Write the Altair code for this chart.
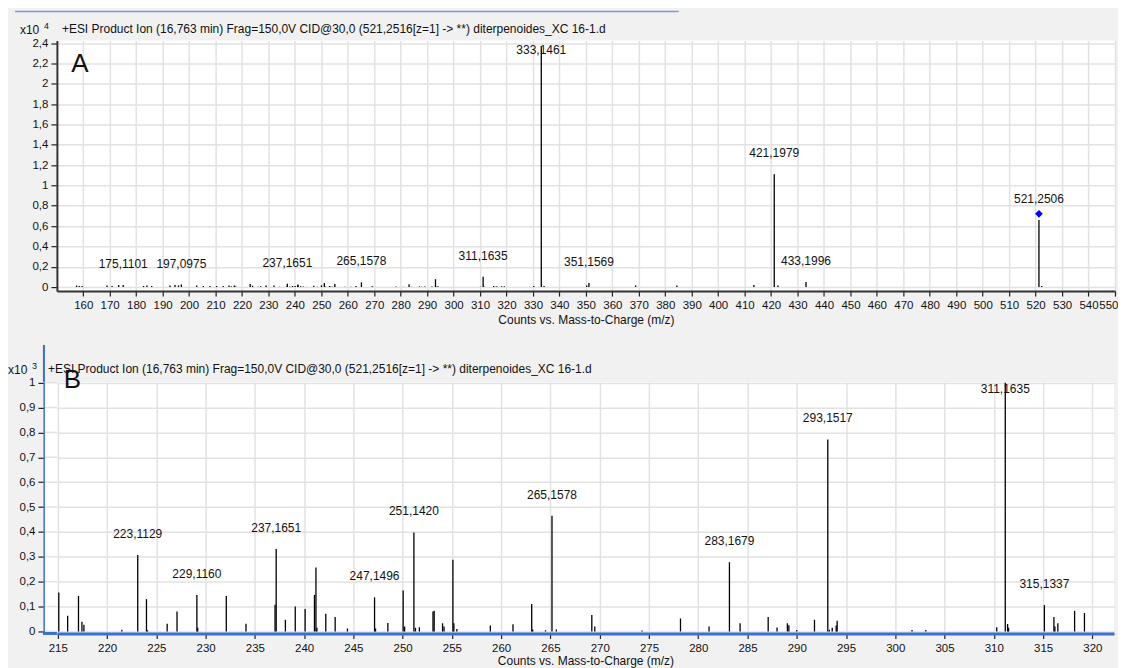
import altair as alt
import pandas as pd

TITLE = "+ESI Product Ion (16,763 min) Frag=150,0V CID@30,0 (521,2516[z=1] -> **) diterpenoides_XC 16-1.d"
XTITLE = "Counts vs. Mass-to-Charge (m/z)"
FONT = "Liberation Sans"

# ---- Panel B spectrum, m/z 213-322 (counts x10^3) ----
b_mz = [215.1, 216.0, 217.1, 217.45, 217.65, 221.5, 223.1129, 224.0, 224.1, 226.1,
        227.1, 229.1160, 229.2, 232.1, 234.1, 237.05, 237.1651, 238.1, 239.1, 240.1,
        241.05, 241.2, 241.3, 242.2, 243.15, 244.4, 247.1496, 247.25, 248.5, 250.05,
        250.2, 251.1420, 251.3, 251.7, 253.08, 253.2, 254.05, 254.2, 255.1, 255.2,
        255.5, 258.9, 261.2, 263.1, 263.2, 264.5, 265.1578, 265.6, 269.2, 269.5,
        274.3, 278.2, 281.1, 283.1679, 284.25, 287.1, 288.0, 289.05, 289.2, 290.0,
        291.8, 293.1517, 293.3, 293.6, 294.0, 294.1, 301.7, 303.1, 310.3, 311.1635,
        311.4, 311.5, 315.1337, 316.1, 316.2, 316.5, 318.2, 319.2]
b_int = [0.157, 0.063, 0.143, 0.039, 0.027, 0.007, 0.307, 0.130, 0.005, 0.031,
         0.080, 0.147, 0.015, 0.143, 0.031, 0.107, 0.331, 0.047, 0.100, 0.090,
         0.147, 0.257, 0.015, 0.071, 0.058, 0.012, 0.137, 0.012, 0.034, 0.165,
         0.020, 0.398, 0.015, 0.017, 0.080, 0.083, 0.033, 0.020, 0.288, 0.033,
         0.010, 0.024, 0.029, 0.110, 0.008, 0.005, 0.465, 0.008, 0.066, 0.020,
         0.004, 0.052, 0.020, 0.278, 0.033, 0.058, 0.016, 0.033, 0.025, 0.006,
         0.047, 0.772, 0.007, 0.015, 0.024, 0.043, 0.006, 0.006, 0.017, 1.000,
         0.030, 0.015, 0.106, 0.058, 0.020, 0.033, 0.083, 0.074]

# ---- Panel A peaks outside the zoomed window (counts x10^4) ----
a_low_mz = [157.5, 158.5, 159.6, 169.0, 170.9, 173.4, 175.1101, 182.8, 184.1, 185.9,
            192.8, 194.7, 196.0, 197.0975, 202.9, 205.4, 207.9, 210.4, 212.9]
a_low_int = [0.015, 0.010, 0.010, 0.015, 0.010, 0.020, 0.020, 0.010, 0.015, 0.010,
             0.015, 0.020, 0.015, 0.025, 0.015, 0.010, 0.010, 0.010, 0.010]
a_high_mz = [330.3, 333.1461, 334.2, 350.3, 351.1569, 368.8, 384.4, 413.5, 421.1979,
             422.6, 433.1996, 521.2506, 522.3]
a_high_int = [0.010, 2.370, 0.010, 0.015, 0.040, 0.015, 0.015, 0.020, 1.110,
              0.015, 0.050, 0.660, 0.010]

# precursor marker (blue diamond)
prec_mz = [521.2506]
prec_int = [0.72]

a_label_mz = [175.1101, 197.0975, 237.1651, 265.1578, 311.1635, 333.1461,
              351.1569, 421.1979, 433.1996, 521.2506]
b_label_mz = [223.1129, 229.1160, 237.1651, 247.1496, 251.1420, 265.1578,
              283.1679, 293.1517, 311.1635, 315.1337]

a_x_ticks = list(range(160, 551, 10))
a_y_ticks = [0, 0.2, 0.4, 0.6, 0.8, 1.0, 1.2, 1.4, 1.6, 1.8, 2.0, 2.2, 2.4]
b_x_ticks = list(range(215, 321, 5))
b_y_ticks = [0, 0.1, 0.2, 0.3, 0.4, 0.5, 0.6, 0.7, 0.8, 0.9, 1.0]

# ---- tables ----
a_mz = a_low_mz + b_mz + a_high_mz
a_int = a_low_int + [v / 10 for v in b_int] + a_high_int
dfA = pd.DataFrame({"mz": a_mz, "intensity": a_int})
dfB = pd.DataFrame({"mz": b_mz, "intensity": b_int})
labA = pd.DataFrame({"mz": a_label_mz,
                     "intensity": [dict(zip(a_mz, a_int))[m] for m in a_label_mz]})
labB = pd.DataFrame({"mz": b_label_mz,
                     "intensity": [dict(zip(b_mz, b_int))[m] for m in b_label_mz]})
precA = pd.DataFrame({"mz": prec_mz, "intensity": prec_int})

BLUE = "#3a6fd2"
GRID = "#e2e2e2"
LABEL_EXPR = "replace(format(datum.value, '~g'), '.', ',')"


def panel(df, lab, xdom, ydom, xt, yt, w, h, clampv, axis_color,
          xdom_w, letter, letter_xy, exp, tx, ty, x10x,
          yoffset=0, xlabpad=2, xtitlepad=4, flush=False, prec=None, strip=None,
          extra=None):
    xscale = alt.Scale(domain=xdom, nice=False, zero=False)
    xax_kw = dict(values=xt, title=XTITLE, grid=True, labelFlush=flush,
                  domainColor=axis_color, domainWidth=xdom_w,
                  tickSize=5, labelPadding=xlabpad, titlePadding=xtitlepad,
                  labelOverlap=False)
    if flush:
        xax_kw["labelFlushOffset"] = 3
    xax = alt.Axis(**xax_kw)
    yax = alt.Axis(values=yt, title=None, grid=True, labelExpr=LABEL_EXPR,
                   domainColor=axis_color, domainWidth=2, tickSize=6,
                   labelPadding=3, offset=yoffset, labelOverlap=False)
    yscale = alt.Scale(domain=ydom, nice=False, zero=False)
    xenc = alt.X("mz:Q", scale=xscale, axis=xax)
    layers = []
    if strip:
        # white plot strip between the offset y axis and the view, with grid
        layers.append(alt.Chart(pd.DataFrame({"t": [0]})).mark_rect(color="white").encode(
            x=alt.value(-strip + 1), x2=alt.value(0), y=alt.value(0), y2=alt.value(h)))
        layers.append(alt.Chart(pd.DataFrame({"v": yt})).mark_rule(
            color=GRID, strokeWidth=1.5).encode(
            y=alt.Y("v:Q", scale=yscale, axis=yax),
            x=alt.value(-strip + 1), x2=alt.value(0)))
        layers.append(alt.Chart(pd.DataFrame({"t": [0]})).mark_rule(
            color=axis_color, strokeWidth=xdom_w).encode(
            x=alt.value(-strip - 1), x2=alt.value(0), y=alt.value(h)))
        layers.append(alt.Chart(pd.DataFrame({"t": [0]})).mark_rule(
            color=axis_color, strokeWidth=2).encode(
            x=alt.value(-strip), y=alt.value(ty - 24), y2=alt.value(0)))
    peaks = alt.Chart(df).mark_rule(color="black", strokeWidth=1.3).encode(
        x=xenc, y=alt.Y("intensity:Q", scale=yscale, axis=yax), y2=alt.datum(0))
    labels = alt.Chart(lab).transform_calculate(
        ly=f"min(datum.intensity, {clampv})",
        txt="replace(format(datum.mz, '.4f'), '.', ',')"
    ).mark_text(dy=-21, fontSize=12, font=FONT, color="#111", baseline="middle").encode(
        x=xenc, y=alt.Y("ly:Q", scale=yscale, axis=yax), text="txt:N")
    title = alt.Chart(pd.DataFrame({"t": [TITLE]})).mark_text(
        align="left", baseline="middle", fontSize=12, font=FONT, color="#111").encode(
        text="t:N", x=alt.value(tx), y=alt.value(ty))
    x10 = alt.Chart(pd.DataFrame({"t": ["x10"]})).mark_text(
        align="left", baseline="middle", fontSize=12, font=FONT, color="#111").encode(
        text="t:N", x=alt.value(x10x), y=alt.value(ty + 1))
    sup = alt.Chart(pd.DataFrame({"t": [exp]})).mark_text(
        align="left", baseline="middle", fontSize=9, font=FONT, color="#111").encode(
        text="t:N", x=alt.value(x10x + 24), y=alt.value(ty - 3))
    let = alt.Chart(pd.DataFrame({"t": [letter]})).mark_text(
        align="center", baseline="middle", fontSize=26, font=FONT, color="#111").encode(
        text="t:N", x=alt.value(letter_xy[0]), y=alt.value(letter_xy[1]))
    layers += [peaks, labels]
    if prec is not None:
        layers.append(alt.Chart(prec).mark_point(
            shape="diamond", filled=True, color="#0000ff", size=60, opacity=1).encode(
            x=xenc, y=alt.Y("intensity:Q", scale=yscale, axis=yax)))
    layers += [title, x10, sup, let]
    if extra is not None:
        layers += extra
    return alt.layer(*layers).properties(width=w, height=h)


# panel A: plot area from x=57 to ~1117
topline = alt.Chart(pd.DataFrame({"t": [0]})).mark_rule(color="#7f9bd0", strokeWidth=1.5).encode(
    x=alt.value(-42), x2=alt.value(623), y=alt.value(-29))
chartA = panel(dfA, labA, [150.06, 550.0], [-0.04, 2.425], a_x_ticks, a_y_ticks,
               1060, 251, 2.13, "#333", 2, "A", (23, 24), "4", 5, -12, -37,
               xlabpad=3, xtitlepad=4, flush=True, prec=precA, extra=[topline])

# panel B: view shares the left edge with A, its y axis sits 13 px further left
chartB = panel(dfB, labB, [214.91, 322.2], [-0.008, 1.003], b_x_ticks, b_y_ticks,
               1059, 252, 0.89, BLUE, 3, "B", (15.5, -2), "3", -9, -13, -49,
               yoffset=13, xlabpad=4, xtitlepad=2, strip=13)

chart = alt.concat(chartA, chartB, columns=1, spacing=18).properties(
    align="none",
    padding={"left": 0, "top": 2, "right": 0, "bottom": 0}
).configure(background="#f1f1f1").configure_view(fill="white", stroke=None).configure_axis(
    labelFont=FONT, titleFont=FONT, labelFontSize=11.5, titleFontSize=12,
    labelColor="#111", titleColor="#111", titleFontWeight="normal",
    gridColor=GRID, gridWidth=1.5, tickColor="#222", tickWidth=1.2)

chart.save("out.html", embed_options={"renderer": "svg", "actions": False})
